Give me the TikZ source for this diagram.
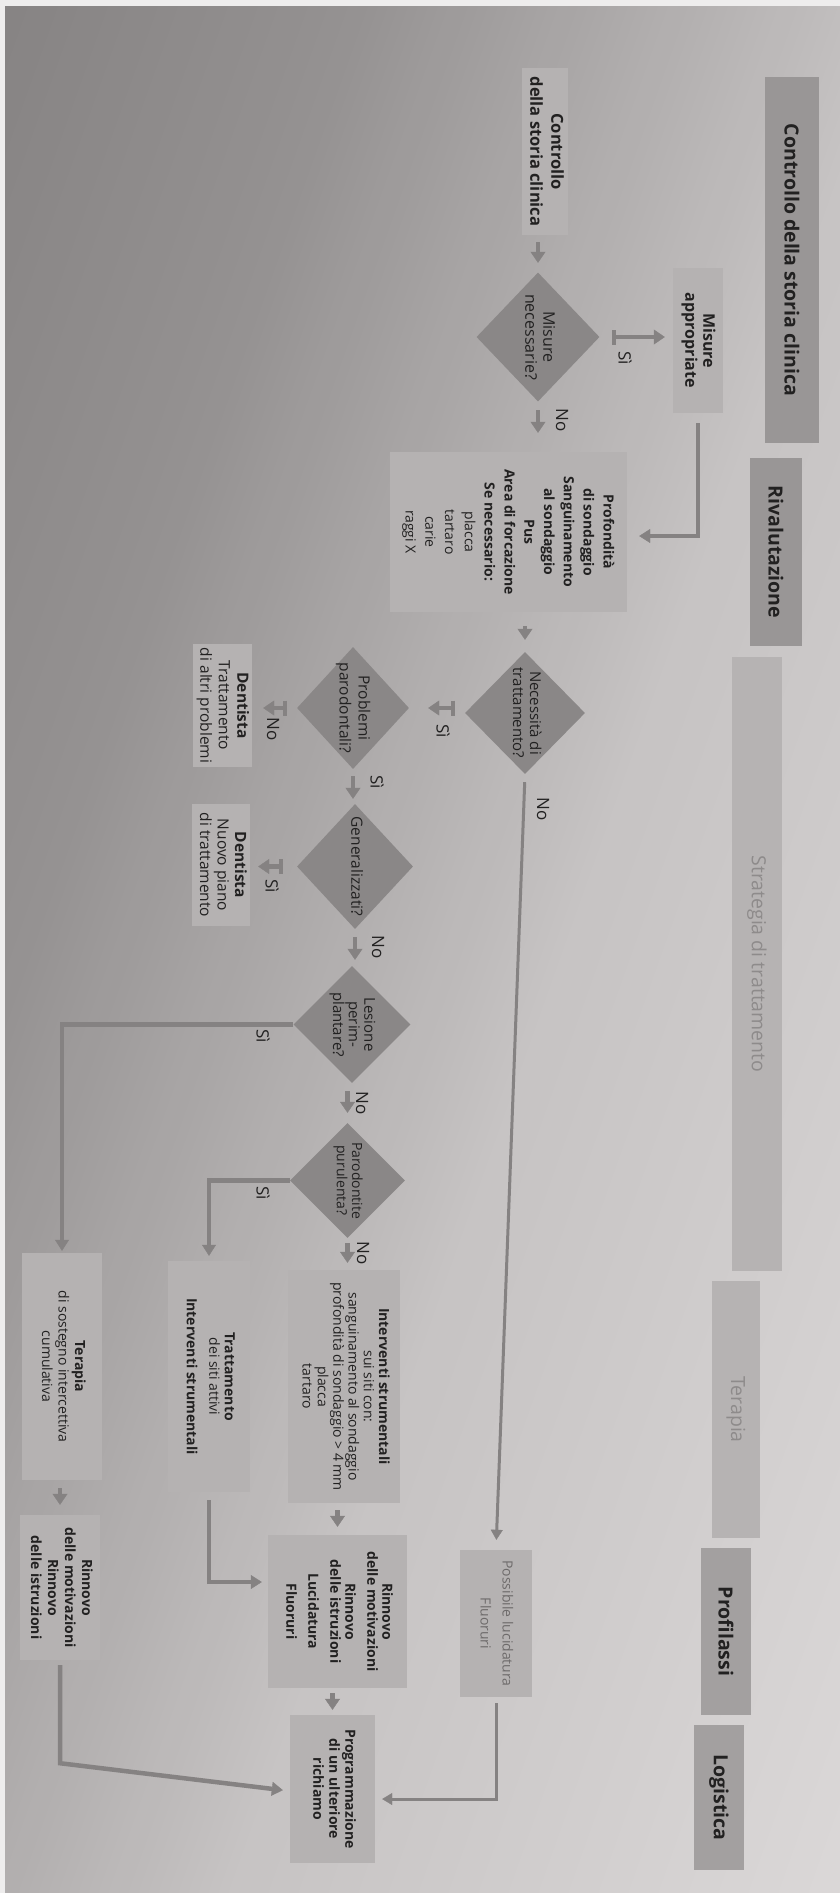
\documentclass[tikz,border=0pt]{standalone}
\usepackage{fontspec}
\setmainfont{Open Sans}
\usetikzlibrary{shapes.geometric,arrows.meta}
\definecolor{pagew}{HTML}{EEEDED}
\definecolor{boxc}{HTML}{B5B2B2}
\definecolor{diac}{HTML}{8A8787}
\definecolor{bandA}{HTML}{999696}
\definecolor{bandC}{HTML}{A3A0A0}
\definecolor{bandB}{HTML}{B6B3B3}
\definecolor{arrc}{HTML}{858282}
\definecolor{txt}{HTML}{222121}
\definecolor{txtL}{HTML}{8E8B8B}
\definecolor{txtP}{HTML}{6E6B6B}
\newcommand{\rtxt}[3]{\rotatebox{-90}{\fontsize{#1}{#2}\selectfont\begin{tabular}{@{}c@{}}#3\end{tabular}}}
\newcommand{\rtxb}[3]{\rotatebox{-90}{\fontsize{#1}{#2}\selectfont\bfseries\begin{tabular}{@{}c@{}}#3\end{tabular}}}
\newcommand{\rtxd}[3]{\rotatebox{-90}{\makebox[0pt]{\fontsize{#1}{#2}\selectfont\begin{tabular}{@{}c@{}}#3\end{tabular}}}}
\newcommand{\hdtxt}[1]{\rotatebox{-90}{\fontsize{19.5}{20}\selectfont #1}}
\newcommand{\labtxt}[1]{\rotatebox{-90}{\fontsize{17}{17}\selectfont #1}}
\tikzset{
  box/.style={fill=boxc, inner sep=0pt, text=txt},
  dia/.style={diamond, fill=diac, inner sep=0pt, text=txt},
  band/.style={inner sep=0pt, text=txt},
  lab/.style={inner sep=0pt, text=txt},
  tipA/.style={-{Triangle[width=15pt,length=11pt,line width=0.4pt]}},
  sarr/.style={draw=arrc, line width=4.5pt, tipA},
  barr/.style={draw=arrc, line width=4.5pt, {Bar[width=15pt,line width=4pt]}-{Triangle[width=15pt,length=11pt,line width=0.4pt]}},
  conn/.style={draw=arrc, line width=4.5pt, line join=miter, -{Triangle[width=14pt,length=11pt,line width=0.4pt]}},
  connthin/.style={draw=arrc, line width=3pt, line join=miter, -{Triangle[width=12pt,length=10pt,line width=0.4pt]}}
}
\begin{document}
\begin{tikzpicture}[x=1pt,y=-1pt]
\useasboundingbox (0,0) rectangle (840,1893);
\fill[pagew] (0,0) rectangle (840,1893);
% photographed page: diagonal light gradient
\begin{scope}
\clip (5,6) rectangle (840,1893);
\foreach \i in {0,...,152} {
  \pgfmathsetmacro\g{10*\i}
  \pgfmathtruncatemacro\v{(\g<350) ? (133+\g/350*14) : ((\g<900) ? (147+(\g-350)/550*50) : (197+(\g-900)/630*21))}
  \pgfmathtruncatemacro\vr{min(\v+2,255)}
  \pgfmathtruncatemacro\vg{\v-1}
  \definecolor{stc}{RGB}{\vr,\vg,\vg}
  \fill[stc] (\g-2,6) -- (\g+9,6) -- (\g+11-672,1893) -- (\g-672,1893) -- cycle;
}
\end{scope}

% header bands
\node[band, fill=bandA, minimum width=54pt, minimum height=366pt] (h1) at (792,260) {\hdtxt{\bfseries Controllo della storia clinica}};
\node[band, fill=bandA, minimum width=52pt, minimum height=188pt] (h2) at (776,552) {\hdtxt{\bfseries Rivalutazione}};
\node[band, fill=bandB, text=txtL, minimum width=50pt, minimum height=614pt] (h3) at (757,964) {\hdtxt{Strategia di trattamento}};
\node[band, fill=bandB, text=txtL, minimum width=48pt, minimum height=257pt] (h4) at (736,1409.5) {\hdtxt{Terapia}};
\node[band, fill=bandC, minimum width=50pt, minimum height=167pt] (h5) at (726,1631.5) {\hdtxt{\bfseries Profilassi}};
\node[band, fill=bandC, minimum width=50pt, minimum height=145pt] (h6) at (719,1797.5) {\hdtxt{\bfseries Logistica}};

% nodes
\node[box, minimum width=46pt, minimum height=167pt] (ctrl) at (545,151.5) {\rtxb{16.5}{21}{Controllo\\della storia clinica}};
\node[dia, minimum width=123pt, minimum height=129pt] (dmis) at (538,337) {\rtxd{16}{18}{Misure\\necessarie?}};
\node[box, minimum width=50pt, minimum height=145pt] (appr) at (698,340.5) {\rtxb{16}{18}{Misure\\appropriate}};
\node[box, minimum width=237pt, minimum height=160pt] (prof) at (508.5,532) {\rtxt{14}{19.8}{\textbf{Profondità}\\\textbf{di sondaggio}\\\textbf{Sanguinamento}\\\textbf{al sondaggio}\\\textbf{Pus}\\\textbf{Area di forcazione}\\\textbf{Se necessario:}\\placca\\tartaro\\carie\\raggi X}};
\node[dia, minimum width=120pt, minimum height=122pt] (dnec) at (525,713) {\rtxd{15}{17}{Necessità di\\trattamento?}};
\node[dia, minimum width=112pt, minimum height=122pt] (dpro) at (353,708) {\rtxd{15.5}{19}{Problemi\\parodontali?}};
\node[box, minimum width=59pt, minimum height=123pt] (den1) at (222.5,705.5) {\rtxt{15.5}{18.5}{\textbf{Dentista}\\Trattamento\\di altri problemi}};
\node[dia, minimum width=116pt, minimum height=125pt] (dgen) at (355,866.5) {\rtxd{15.5}{18}{Generalizzati?}};
\node[box, minimum width=58pt, minimum height=122pt] (den2) at (221,865) {\rtxt{15.5}{17.5}{\textbf{Dentista}\\Nuovo piano\\di trattamento}};
\node[dia, minimum width=117pt, minimum height=117pt] (dles) at (352,1024.5) {\rtxd{15}{15}{Lesione\\perim-\\plantare?}};
\node[dia, minimum width=115pt, minimum height=115pt] (dpar) at (347.5,1180.5) {\rtxd{14}{15}{Parodontite\\purulenta?}};
\node[box, minimum width=112pt, minimum height=233pt] (intv) at (344,1386.5) {\rtxt{14}{15.3}{\textbf{Interventi strumentali}\\sui siti con:\\sanguinamento al sondaggio\\profondità di sondaggio > 4 mm\\placca\\tartaro}};
\node[box, minimum width=82pt, minimum height=231pt] (tratt) at (209,1376.5) {\rtxt{14}{15.5}{\textbf{Trattamento}\\dei siti attivi\\[7pt]\textbf{Interventi strumentali}}};
\node[box, minimum width=80pt, minimum height=227pt] (terap) at (62,1366.5) {\rtxt{14}{16.5}{\textbf{Terapia}\\di sostegno intercettiva\\cumulativa}};
\node[box, minimum width=80pt, minimum height=145pt] (rinL) at (60,1587.5) {\rtxb{14}{17}{Rinnovo\\delle motivazioni\\Rinnovo\\delle istruzioni}};
\node[box, minimum width=139pt, minimum height=153pt] (rinC) at (337.5,1611.5) {\rtxb{14}{14.5}{Rinnovo\\delle motivazioni\\[7pt]Rinnovo\\delle istruzioni\\[7pt]Lucidatura\\[7pt]Fluoruri}};
\node[box, minimum width=85pt, minimum height=148pt] (prog) at (332.5,1789) {\rtxb{14}{16}{Programmazione\\di un ulteriore\\richiamo}};
\node[box, text=txtP, minimum width=72pt, minimum height=147pt] (poss) at (496,1623.5) {\rtxt{14}{22}{Possibile lucidatura\\Fluoruri}};

% connectors
\draw[sarr, shorten <=7pt, shorten >=9.5pt] (ctrl.south -| dmis.north) -- (dmis.north);
\draw[barr, shorten <=12.5pt, shorten >=8pt] (dmis.east) -- (dmis.east -| appr.west);
\draw[sarr, shorten <=8.5pt, shorten >=19pt] (dmis.south) -- (dmis.south |- prof.north);
\draw[conn, shorten <=10pt, shorten >=12pt] (appr.south) |- ([yshift=-4pt]prof.east);
\draw[sarr, shorten <=14pt, shorten >=12pt] (prof.south -| dnec.north) -- (dnec.north);
\draw[barr, shorten <=10pt, shorten >=19pt] (dpro.east -| dnec.west) -- (dpro.east);
\draw[connthin, shorten <=8pt, shorten >=10pt] (dnec.south) -- (poss.north);
\draw[barr, shorten <=10pt, shorten >=11pt] (dpro.west) -- (dpro.west -| den1.east);
\draw[sarr, shorten <=7pt, shorten >=5pt] (dpro.south) -- (dpro.south |- dgen.north);
\draw[barr, shorten <=14pt, shorten >=8pt] (dgen.west) -- (dgen.west -| den2.east);
\draw[sarr, shorten <=8pt, shorten >=6pt] (dgen.south) -- (dgen.south |- dles.north);
\draw[conn, shorten >=2pt] (dles.west) -| (terap.north);
\draw[sarr, shorten <=8pt, shorten >=10pt] (dpar.north |- dles.south) -- (dpar.north);
\draw[conn, shorten >=5pt] (dpar.west) -| (tratt.north);
\draw[sarr, shorten <=5pt, shorten >=7pt] (dpar.south) -- (dpar.south |- intv.north);
\draw[sarr, shorten <=7pt, shorten >=8pt] (intv.south -| rinC.north) -- (rinC.north);
\draw[conn, shorten <=8pt, shorten >=6pt] (tratt.south) |- ([yshift=29.5pt]rinC.west);
\draw[sarr, shorten <=5pt, shorten >=5pt] (rinC.south -| prog.north) -- (prog.north);
\draw[sarr, shorten <=8pt, shorten >=10pt] (terap.south -| rinL.north) -- (rinL.north);
\draw[conn, shorten <=5pt, shorten >=7pt] (rinL.south) -- ++(0,103) -- ([yshift=-2pt]prog.west);
\draw[connthin, shorten <=6pt, shorten >=7pt] (poss.south) |- ([yshift=-10pt]prog.east);

% labels
\node[lab] (l1) at (625,358) {\labtxt{Sì}};
\node[lab] (l2) at (562,420) {\labtxt{No}};
\node[lab] (l3) at (443,731) {\labtxt{Sì}};
\node[lab] (l4) at (543,809) {\labtxt{No}};
\node[lab] (l5) at (273,729) {\labtxt{No}};
\node[lab] (l6) at (377,782) {\labtxt{Sì}};
\node[lab] (l7) at (272,886) {\labtxt{Sì}};
\node[lab] (l8) at (378,947) {\labtxt{No}};
\node[lab] (l9) at (263,1036) {\labtxt{Sì}};
\node[lab] (l10) at (362,1103) {\labtxt{No}};
\node[lab] (l11) at (263,1193) {\labtxt{Sì}};
\node[lab] (l12) at (363,1253) {\labtxt{No}};
\end{tikzpicture}
\end{document}
